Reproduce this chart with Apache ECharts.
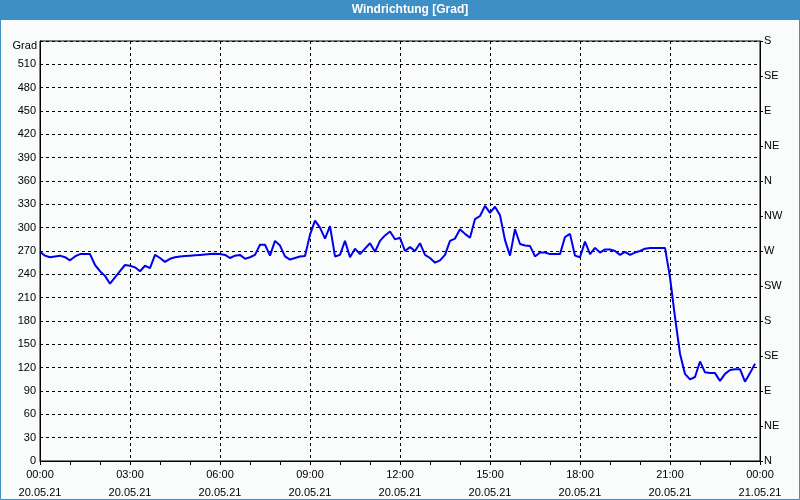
<!DOCTYPE html>
<html>
<head>
<meta charset="utf-8">
<script src="https://cdn.jsdelivr.net/npm/echarts@6/dist/echarts.min.js"></script>
<style>
html,body{margin:0;padding:0;background:#f9fcfb;}
#c{width:800px;height:500px;}
</style>
</head>
<body>
<div id="c"></div>
<script>
// 10-minute samples from 20.05.21 00:00 to 23:50 (degrees)
var windDir = [
 269,264,262,263,264,262,258,263,266,266,266,252,244,238,228,236,244,252,251,249,
 244,251,248,265,261,256,260,262,263,263.5,264,264.5,265,265.5,266,266.5,266,265,261,264,
 265,260,262,265,278,278,264,283,277,263,259,261,263,263.5,291,309,300,286,302,263,
 265,283,262,273,266,273,280,269,283,290,295,285,287,270,275,270,280,265,261,255,
 258,265,283,286,298,292,287,311,315,328,319,327,316,284,264,298,279,277,276.5,263,
 268,268,266,266,266,288,292,264,262,282,266,274,268,272,272,270,265,269,265,268,
 270,273,274,274,274,274,236,185,138,112,105,108,128,114,113,113,103,112,117,118,
 118,102,113,125
];
var stepMinutes = 10;
var xTickHours = [0,3,6,9,12,15,18,21,24];
var xTickTimes = ['00:00','03:00','06:00','09:00','12:00','15:00','18:00','21:00','00:00'];
var xTickDates = ['20.05.21','20.05.21','20.05.21','20.05.21','20.05.21','20.05.21','20.05.21','20.05.21','21.05.21'];
var compassLabels = ['N','NE','E','SE','S','SW','W','NW','N','NE','E','SE','S'];
var titleText = 'Windrichtung [Grad]';
var yUnit = 'Grad';

var seriesData = windDir.map(function(v,i){ return [i*stepMinutes/60, v]; });

var font = 'Liberation Sans, Arial, sans-serif';
var chart = echarts.init(document.getElementById('c'));
chart.setOption({
  animation:false,
  backgroundColor:'#f9fcfb',
  graphic:[
    {type:'rect', shape:{x:0,y:0,width:800,height:20}, style:{fill:'#3d8fc6'}, z:1},
    {type:'rect', shape:{x:0.5,y:0.5,width:799,height:499}, style:{fill:'none',stroke:'#3d8fc6',lineWidth:1}, z:1},
    {type:'text', x:410, y:10, style:{text:titleText, fill:'#ffffff', font:'bold 12px '+font, textAlign:'center', textVerticalAlign:'middle'}, z:2},
    {type:'text', x:37, y:46, style:{text:yUnit, fill:'#000', font:'11px '+font, textAlign:'right', textVerticalAlign:'middle'}, z:2}
  ],
  grid:{left:40,right:40,top:41,bottom:39,show:true,borderColor:'#000',borderWidth:1,backgroundColor:'transparent',
        containLabel:false, outerBoundsMode:'none'},
  xAxis:{
    type:'value', min:0, max:24, interval:3,
    axisLine:{lineStyle:{color:'#000',width:1}},
    axisTick:{show:true,length:4,lineStyle:{color:'#000'}},
    minorTick:{show:true,splitNumber:3,length:4,lineStyle:{color:'#000'}},
    splitLine:{show:true,lineStyle:{color:'#000',type:[3,3],width:1}},
    axisLabel:{
      margin:5, color:'#000', fontSize:11, fontFamily:font, lineHeight:18,
      formatter:function(v){ var k=xTickHours.indexOf(v); return k<0?'':xTickTimes[k]+'\n'+xTickDates[k]; }
    }
  },
  yAxis:[
    {type:'value', min:0, max:540, interval:30, position:'left',
     axisLine:{show:true,lineStyle:{color:'#000'}},
     axisTick:{show:false},
     splitLine:{show:true,lineStyle:{color:'#000',type:[3,3],width:1}},
     axisLabel:{margin:4,color:'#000',fontSize:11,fontFamily:font,
       formatter:function(v){return v===540?'':String(v);}}
    },
    {type:'value', min:0, max:540, interval:45, position:'right',
     axisLine:{show:true,lineStyle:{color:'#000'}},
     axisTick:{show:true,length:3,lineStyle:{color:'#000'}},
     splitLine:{show:false},
     axisLabel:{margin:4,color:'#000',fontSize:11,fontFamily:font,
       formatter:function(v){return compassLabels[Math.round(v/45)];}}
    }
  ],
  series:[{
    type:'line', data:seriesData, yAxisIndex:0, showSymbol:false, symbol:'none',
    lineStyle:{color:'#0000ee',width:2}, z:5
  }]
});
</script>
</body>
</html>
